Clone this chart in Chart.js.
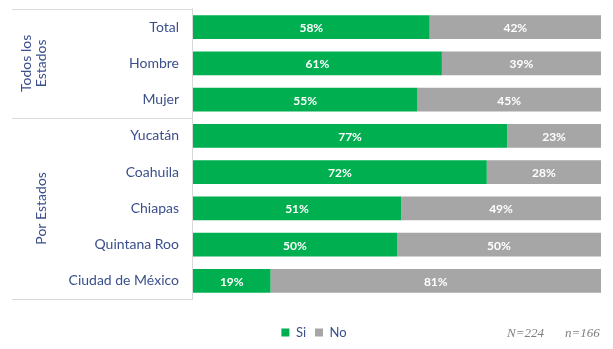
<!DOCTYPE html>
<html>
<head>
<meta charset="utf-8">
<script src="https://cdn.jsdelivr.net/npm/chart.js@4/dist/chart.umd.min.js"></script>
<style>
	html, body { margin: 0; padding: 0; background: #fff; }
	#wrap { width: 613px; height: 349px; }
</style>
</head>
<body>
<div id="wrap"><canvas id="chart"></canvas></div>
<script>
// ----- data -----
const categories = ['Total', 'Hombre', 'Mujer', 'Yucatán', 'Coahuila', 'Chiapas', 'Quintana Roo', 'Ciudad de México']
const siValues = [58, 61, 55, 77, 72, 51, 50, 19]
const noValues = [42, 39, 45, 23, 28, 49, 50, 81]
const groupLabels = [['Todos los', 'Estados'], ['Por Estados']]
const groupStarts = [0, 3]
const groupEnds = [2, 7]
const notes = ['N=224', 'n=166']

const blue = '#3b4f8c'
const lineColor = '#d9d9d9'

// white % labels in the middle of each segment
const valueLabels = {
	id: 'valueLabels',
	afterDatasetsDraw(chart) {
		const ctx = chart.ctx
		ctx.save()
		ctx.font = 'bold 12px Lato'
		ctx.fillStyle = '#ffffff'
		ctx.textAlign = 'center'
		ctx.textBaseline = 'middle'
		chart.data.datasets.forEach((ds, i) => {
			chart.getDatasetMeta(i).data.forEach((bar, j) => {
				const p = bar.getCenterPoint()
				ctx.fillText(ds.data[j] + '%', p.x, p.y + 1)
			})
		})
		ctx.restore()
	}
}

// group separators, group titles and the sample sizes
const groupFrame = {
	id: 'groupFrame',
	afterDraw(chart) {
		const ctx = chart.ctx
		const y = chart.scales.y
		const area = chart.chartArea
		ctx.save()
		ctx.strokeStyle = lineColor
		ctx.lineWidth = 1

		// vertical line on the left of the bars
		ctx.beginPath()
		ctx.moveTo(area.left - 0.5, area.top - 1)
		ctx.lineTo(area.left - 0.5, area.bottom)
		ctx.stroke()

		const bounds = [groupStarts[0] - 0.5].concat(groupEnds.map(e => e + 0.5))
		bounds.forEach(b => {
			const py = Math.round(y.getPixelForValue(b)) + 0.5
			ctx.beginPath()
			ctx.moveTo(12, py)
			ctx.lineTo(area.left, py)
			ctx.stroke()
		})

		ctx.fillStyle = blue
		ctx.font = '14px Lato'
		ctx.textAlign = 'center'
		ctx.textBaseline = 'middle'
		groupLabels.forEach((lines, g) => {
			const cy = (y.getPixelForValue(groupStarts[g] - 0.5) + y.getPixelForValue(groupEnds[g] + 0.5)) / 2
			lines.forEach((txt, k) => {
				const cx = 41 - (lines.length - 1 - k) * 15
				ctx.save()
				ctx.translate(cx, cy)
				ctx.rotate(-Math.PI / 2)
				ctx.fillText(txt, 0, 0)
				ctx.restore()
			})
		})

		ctx.fillStyle = '#7f7f7f'
		ctx.font = 'italic 13px "Liberation Serif"'
		ctx.textAlign = 'left'
		ctx.fillText(notes[0], 507, 334)
		ctx.fillText(notes[1], 565, 334)
		ctx.restore()
	}
}

new Chart(document.getElementById('chart'), {
	type: 'bar',
	data: {
		labels: categories,
		datasets: [
			{
				label: 'Si',
				data: siValues,
				backgroundColor: '#00b050',
				barPercentage: 0.66,
				categoryPercentage: 1
			},
			{
				label: 'No',
				data: noValues,
				backgroundColor: '#a6a6a6',
				barPercentage: 0.66,
				categoryPercentage: 1
			}
		]
	},
	options: {
		indexAxis: 'y',
		responsive: true,
		maintainAspectRatio: false,
		animation: false,
		layout: { padding: { left: 27, right: 12, top: 9, bottom: 0 } },
		scales: {
			x: {
				stacked: true,
				min: 0,
				max: 100,
				grid: { display: false },
				border: { display: false },
				ticks: { display: false },
				afterFit(scale) { scale.height = 18 }
			},
			y: {
				stacked: true,
				grid: { display: false },
				border: { display: false },
				ticks: {
					color: blue,
					padding: 6,
					font: { family: 'Lato', size: 14 }
				},
				afterFit(scale) {
					scale.width = 166
					scale.paddingTop = 0
					scale.paddingBottom = 0
				}
			}
		},
		plugins: {
			legend: {
				position: 'bottom',
				labels: {
					boxWidth: 8,
					boxHeight: 8,
					padding: 9,
					color: blue,
					font: { family: 'Lato', size: 13 }
				}
			},
			tooltip: { enabled: false }
		}
	},
	plugins: [valueLabels, groupFrame]
})
</script>
</body>
</html>
